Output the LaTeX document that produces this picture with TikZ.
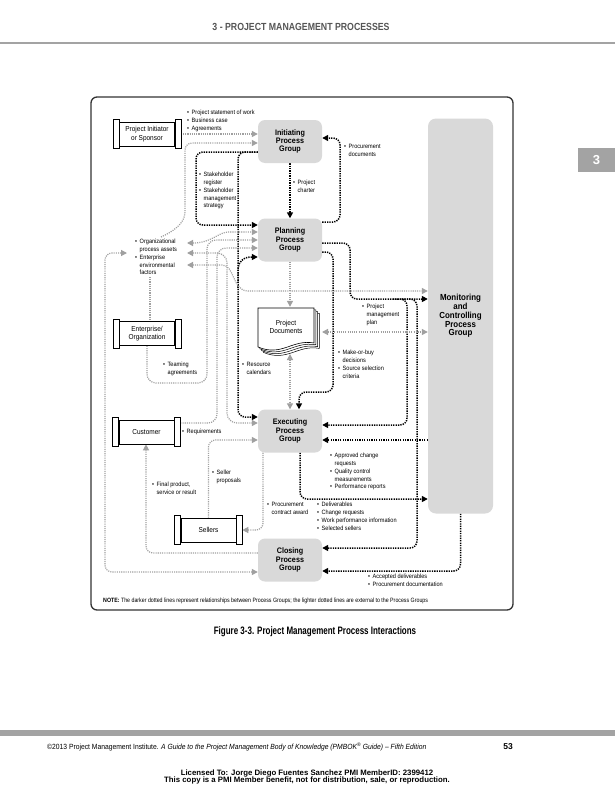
\documentclass[tikz,border=0pt]{standalone}
\usepackage{fontspec}
\setmainfont{Liberation Sans}
\newfontfamily\cnd[FakeStretch=0.9]{Liberation Sans}
\newfontfamily\cndn[FakeStretch=0.85]{Liberation Sans}
\newfontfamily\cndh[FakeStretch=0.85]{Liberation Sans}
\newfontfamily\cndc[FakeStretch=0.74]{Liberation Sans}
\usetikzlibrary{arrows.meta,calc}
\pgfdeclarelayer{back}
\pgfdeclarelayer{bg}
\pgfsetlayers{back,bg,main}
\definecolor{pgfill}{HTML}{D9D9D9}
\definecolor{ltline}{HTML}{A0A0A0}
\definecolor{hdgray}{HTML}{555555}
\definecolor{bargray}{HTML}{A3A3A3}
\newcommand\bu{\makebox[4.5pt][l]{•}}
\newcommand\ii{\hspace*{4.5pt}}
\newcommand\myscroll[4]{%
  \node[scrollbody] (#1) at (#2,#3) {#4};
  \draw[scrollbar] ([xshift=-6pt,yshift=2pt]#1.north west) rectangle ([yshift=-2pt]#1.south west);
  \draw[scrollbar] ([yshift=2pt]#1.north east) rectangle ([xshift=6pt,yshift=-2pt]#1.south east);
}
\begin{document}
\begin{tikzpicture}[x=1pt,y=-1pt,
  >={Triangle[length=6pt,width=6pt]},
  pg/.style={fill=pgfill, rounded corners=7pt, minimum width=64pt, minimum height=43pt, align=center, inner sep=0pt, font=\cnd\bfseries\fontsize{8}{8.3}\selectfont},
  lbl/.style={anchor=north west, align=left, inner sep=0pt, font=\cnd\fontsize{6.2}{7.8}\selectfont},
  scrollbody/.style={draw, line width=0.6pt, fill=white, minimum width=55pt, minimum height=24pt, inner sep=0pt, align=center, font=\cnd\fontsize{7.2}{8.3}\selectfont},
  scrollbar/.style={draw, line width=0.6pt, fill=white},
  dk/.style={draw=black, line width=1.5pt, dash pattern=on 1.3pt off 1.1pt, rounded corners=7pt},
  lt/.style={draw=ltline, line width=1.2pt, dash pattern=on 1.1pt off 1.1pt, rounded corners=7pt}
]
\useasboundingbox (0,0) rectangle (615,800);
\begin{pgfonlayer}{back}
\fill[white] (0,0) rectangle (615,800);
\end{pgfonlayer}

% page header
\node[font=\cndh\bfseries\fontsize{10.3}{11}\selectfont, text=hdgray] (hdr) at (301,27) {3 - PROJECT MANAGEMENT PROCESSES};
\draw[bargray, line width=2pt] (0,43) -- (615,43);
\fill[bargray] (578,148) rectangle (615,172);
\node[font=\bfseries\fontsize{13}{14}\selectfont, text=white] (tab) at (596.5,160) {3};

% frame
\draw[line width=1.3pt, draw=black!80, rounded corners=6pt] (91,97) rectangle (513,610);

% process groups
\node[pg] (init) at (290,141.5) {Initiating\\Process\\Group};
\node[pg] (plan) at (290,240) {Planning\\Process\\Group};
\node[pg] (exec) at (290,431) {Executing\\Process\\Group};
\node[pg] (close) at (290,560) {Closing\\Process\\Group};
\node[pg, minimum width=65pt, minimum height=395pt, rounded corners=8pt, font=\cnd\bfseries\fontsize{8.8}{8.8}\selectfont] (mc) at (460.5,316) {Monitoring\\and\\Controlling\\Process\\Group};

% external entities
\myscroll{sponsor}{147}{134}{Project Initiator\\or Sponsor}
\myscroll{ent}{147}{333.5}{Enterprise/\\Organization}
\myscroll{cust}{146.5}{432}{Customer}
\myscroll{sell}{208.5}{530}{Sellers}

% project documents
\foreach \k in {3,2,1} {
  \draw[fill=white, line width=0.5pt, shift={(\k*1.8,\k*1.8)}] (258,308) -- (314,308) -- (314,343) .. controls (292,339) and (282,357) .. (258,347) -- cycle;
}
\draw[fill=white, line width=0.6pt] (258,308) -- (314,308) -- (314,343) .. controls (292,339) and (282,357) .. (258,347) -- cycle;
\node[font=\cnd\fontsize{7.2}{8.5}\selectfont, align=center, minimum width=56pt, minimum height=40pt, inner sep=0pt] (docs) at (286,327) {Project\\Documents};

% labels
\node[lbl] (l1) at (187,110) {\bu Project statement of work\\\bu Business case\\\bu Agreements};
\node[lbl] (l2) at (344,144) {\bu Procurement\\\ii documents};
\node[lbl] (l3) at (293,180) {\bu Project\\\ii charter};
\node[lbl] (l4) at (199,172) {\bu Stakeholder\\\ii register\\\bu Stakeholder\\\ii management\\\ii strategy};
\node[lbl] (l5) at (135,239) {\bu Organizational\\\ii process assets\\\bu Enterprise\\\ii environmental\\\ii factors};
\node[lbl] (l6) at (163,362) {\bu Teaming\\\ii agreements};
\node[lbl] (l7) at (242,362) {\bu Resource\\\ii calendars};
\node[lbl] (l8) at (362,304) {\bu Project\\\ii management\\\ii plan};
\node[lbl] (l9) at (338,350) {\bu Make-or-buy\\\ii decisions\\\bu Source selection\\\ii criteria};
\node[lbl] (l10) at (182,429) {\bu Requirements};
\node[lbl] (l11) at (212,470) {\bu Seller\\\ii proposals};
\node[lbl] (l12) at (152,482) {\bu Final product,\\\ii service or result};
\node[lbl] (l13) at (330,453) {\bu Approved change\\\ii requests\\\bu Quality control\\\ii measurements\\\bu Performance reports};
\node[lbl] (l14) at (267,502) {\bu Procurement\\\ii contract award};
\node[lbl] (l15) at (317,502) {\bu Deliverables\\\bu Change requests\\\bu Work performance information\\\bu Selected sellers};
\node[lbl] (l16) at (368,574) {\bu Accepted deliverables\\\bu Procurement documentation};
\node[lbl, font=\cndn\fontsize{6.2}{7.8}\selectfont] (note) at (103,598) {\textbf{NOTE:} The darker dotted lines represent relationships between Process Groups; the lighter dotted lines are external to the Process Groups};

% caption and footer
\node[font=\cndc\bfseries\fontsize{10.8}{12}\selectfont] (cap) at (315,632) {Figure 3-3. Project Management Process Interactions};
\fill[bargray] (0,730) rectangle (615,736);
\node[anchor=west, font=\cnd\fontsize{7.5}{8}\selectfont, inner sep=0pt] (foot) at (47,747) {©2013 Project Management Institute. \textit{A Guide to the Project Management Body of Knowledge (PMBOK\textsuperscript{®} Guide) – Fifth Edition}};
\node[anchor=east, font=\bfseries\fontsize{8.5}{9}\selectfont, inner sep=0pt] (pnum) at (513,747) {53};
\node[align=center, font=\bfseries\fontsize{7.8}{7.8}\selectfont] (lic) at (307,777) {Licensed To: Jorge Diego Fuentes Sanchez PMI MemberID: 2399412\\This copy is a PMI Member benefit, not for distribution, sale, or reproduction.};

\begin{pgfonlayer}{bg}
% dark connectors (between process groups)
\draw[dk,->] (init.south) -- (plan.north);
\draw[dk,->] (init.west |- 0,152) -- (196,152) -- (196,225) -- (plan.west |- 0,225);
\draw[dk,->] (init.west |- 0,152) -- (238,152) -- (238,417) -- (exec.west |- 0,417);
\draw[dk,->,rounded corners=12pt] (238,288) -- (238,257) -- (plan.west |- 0,257);
\draw[dk,->] (plan.east |- 0,222) -- (340,222) -- (340,138) -- (init.east |- 0,138);
\draw[dk,->] (plan.east |- 0,243) -- (350,243) -- (350,299) -- (mc.west |- 0,299);
\draw[dk,->] (393,299) -- (407,299) -- (407,425) -- (exec.east |- 0,425);
\draw[dk,->] (402,299) -- (417,299) -- (417,548) -- (close.east |- 0,548);
\draw[dk,->] (plan.east |- 0,252) -- (333,252) -- (333,392) -- (299,392) -- (exec.north -| 299,0);
\draw[dk,->] (mc.west |- 0,440) -- (exec.east |- 0,440);
\draw[dk,->] (exec.south -| 300,0) -- (300,499) -- (mc.west |- 0,499);
\draw[dk,->] (mc.south) -- (mc.south |- 0,571) -- (close.east |- 0,571);

% light connectors (external)
\draw[lt,->] ([xshift=6pt]sponsor.east) -- (init.west |- sponsor.east);
\draw[lt,->] (161,237) .. controls (172,232) and (185,224) .. (185,205) -- (185,143) -- (init.west |- 0,143);
\draw[lt,<->] (187,243) .. controls (212,243) and (218,232) .. (236,232) -- (plan.west |- 0,232);
\draw[lt,->,rounded corners=9pt] (ent.south) -- (147,383) -- (207,383) -- (207,240) -- (plan.west |- 0,240);
\draw[lt,->,rounded corners=9pt] ($(cust.east)+(6,-9)$) -- (217,423) -- (217,248) -- (plan.west |- 0,248);
\draw[lt,<->,rounded corners=10pt] (187,253) -- (227,253) -- (227,423) -- (exec.west |- 0,423);
\draw[lt,<->] (187,265) -- (215,265) .. controls (235,265) and (232,291) .. (255,291) -- (mc.west |- 0,291);
\draw[lt,<->] (127,253) -- (105,253) -- (105,572) -- (close.west |- 0,572);
\draw[lt] (150,277) -- (ent.north -| 150,0);
\draw[lt,->] (close.west |- 0,553) -- (146,553) -- (cust.south -| 146,0);
\draw[lt,->] (sell.north) -- (sell.north |- 0,440) -- (exec.west |- 0,440);
\draw[lt,->] (exec.south -| 263,0) -- (263,530) -- ($(sell.east)+(6,0)$);
\draw[lt,->] (plan.south) -- (plan.south |- docs.north);
\draw[lt,<->] (exec.north |- 0,354) -- (exec.north);
\draw[lt,<->] (322,332) -- (mc.west |- 0,332);
\end{pgfonlayer}
\end{tikzpicture}
\end{document}
